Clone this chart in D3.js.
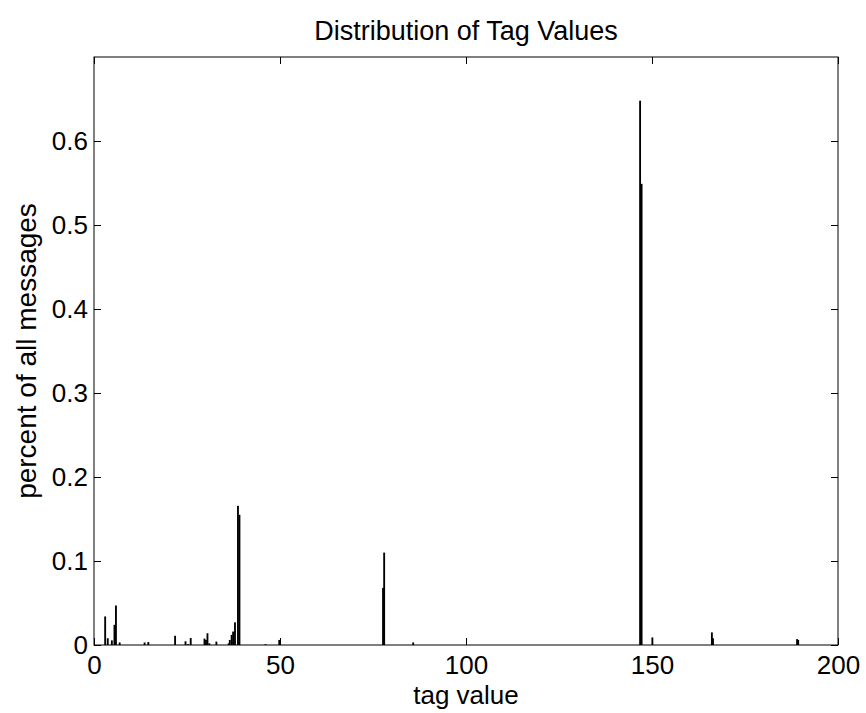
<!DOCTYPE html>
<html lang="en">
<head>
    <meta charset="UTF-8">
    <script src="https://d3js.org/d3.v7.min.js"></script>
    <style>
        body { margin: 0; background: #fff; }
        text { font-family: "Liberation Sans", Arial, sans-serif; fill: #000; }
    </style>
</head>
<body>
    <svg id="chart" width="866" height="713"></svg>

    <script>
        // tag positions and percent of messages
        const tags = [3, 3.7, 4.8, 5.5, 5.9, 6.9, 13.6, 14.6, 21.8, 24.6, 25.3, 26,
                      29.7, 30.1, 30.5, 31, 32.9, 36.2, 36.5, 37, 37.4, 37.9, 38.7, 39.1,
                      46.1, 49.8, 77.7, 78.0, 85.8, 146.8, 147.2, 150.1, 166.1, 166.4, 189, 189.3];
        const percents = [0.034, 0.008, 0.0055, 0.024, 0.047, 0.003, 0.003, 0.0035, 0.011, 0.0044, 0.001, 0.0083,
                          0.0076, 0.006, 0.014, 0.002, 0.004, 0.002, 0.006, 0.012, 0.016, 0.027, 0.1657, 0.155,
                          0.001, 0.006, 0.068, 0.110, 0.003, 0.648, 0.549, 0.009, 0.015, 0.008, 0.007, 0.006];
        const xTicks = [0, 50, 100, 150, 200];
        const yTicks = [0, 0.1, 0.2, 0.3, 0.4, 0.5, 0.6];

        const data = tags.map((t, i) => ({ tag: t, pct: percents[i] }));

        const width = 866, height = 713;
        const margin = { top: 57, right: 28, bottom: 68, left: 94 };
        const tickLen = 7;

        const svg = d3.select("#chart");

        const x = d3.scaleLinear()
            .domain([0, 200])
            .range([margin.left, width - margin.right]);

        const y = d3.scaleLinear()
            .domain([0, 0.7])
            .range([height - margin.bottom, margin.top]);

        // Title
        svg.append("text")
            .attr("x", (margin.left + width - margin.right) / 2)
            .attr("y", 40)
            .attr("text-anchor", "middle")
            .style("font-size", "27px")
            .text("Distribution of Tag Values");

        // Bars
        const barW = x(0.5) - x(0);
        svg.selectAll(".bar")
            .data(data)
            .enter().append("rect")
            .attr("class", "bar")
            .attr("x", d => x(d.tag) - barW / 2)
            .attr("y", d => y(d.pct))
            .attr("width", barW)
            .attr("height", d => y(0) - y(d.pct))
            .attr("fill", "#000");

        // Axes: ticks pointing inwards, on all four sides
        svg.append("g")
            .attr("transform", `translate(0,${height - margin.bottom})`)
            .call(d3.axisBottom(x).tickValues(xTicks).tickSizeInner(-tickLen).tickSizeOuter(0).tickPadding(9))
            .call(g => g.select(".domain").remove())
            .call(g => g.selectAll("text").style("font-size", "26px").attr("dy", "0.78em"));

        svg.append("g")
            .attr("transform", `translate(0,${margin.top})`)
            .call(d3.axisTop(x).tickValues(xTicks).tickSizeInner(-tickLen).tickSizeOuter(0).tickFormat(""))
            .call(g => g.select(".domain").remove());

        svg.append("g")
            .attr("transform", `translate(${margin.left},0)`)
            .call(d3.axisLeft(y).tickValues(yTicks).tickSizeInner(-tickLen).tickSizeOuter(0).tickPadding(6)
                .tickFormat(d => d === 0 ? "0" : d3.format(".1f")(d)))
            .call(g => g.select(".domain").remove())
            .call(g => g.selectAll("text").style("font-size", "26px"));

        svg.append("g")
            .attr("transform", `translate(${width - margin.right},0)`)
            .call(d3.axisRight(y).tickValues(yTicks).tickSizeInner(-tickLen).tickSizeOuter(0).tickFormat(""))
            .call(g => g.select(".domain").remove());

        // Frame
        svg.append("rect")
            .attr("x", margin.left)
            .attr("y", margin.top)
            .attr("width", width - margin.left - margin.right)
            .attr("height", height - margin.top - margin.bottom)
            .attr("fill", "none")
            .attr("stroke", "#000")
            .attr("stroke-width", 1);

        // Axis labels
        svg.append("text")
            .attr("x", (margin.left + width - margin.right) / 2)
            .attr("y", 704)
            .attr("text-anchor", "middle")
            .style("font-size", "26px")
            .text("tag value");

        svg.append("text")
            .attr("transform", `translate(36,${(margin.top + height - margin.bottom) / 2}) rotate(-90)`)
            .attr("text-anchor", "middle")
            .style("font-size", "28px")
            .text("percent of all messages");
    </script>
</body>
</html>
